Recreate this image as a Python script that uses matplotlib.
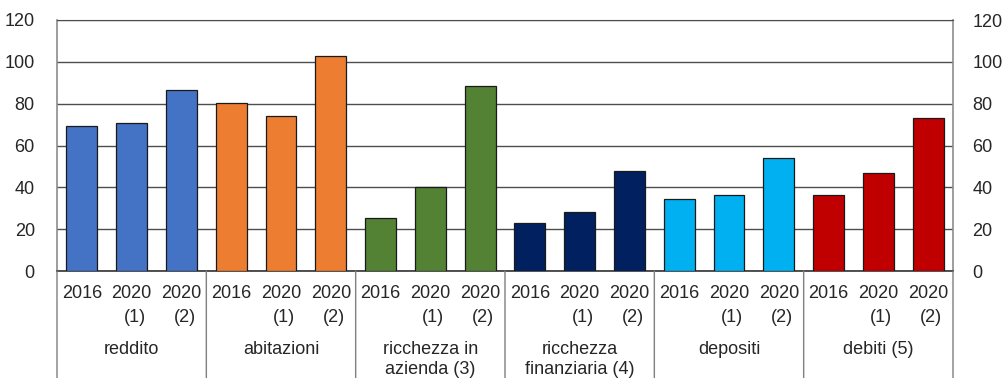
import matplotlib
matplotlib.use("Agg")
import matplotlib.pyplot as plt

plt.rcParams["font.family"] = ["Liberation Sans", "DejaVu Sans"]

groups = ["reddito", "abitazioni", "ricchezza in\nazienda (3)",
          "ricchezza\nfinanziaria (4)", "depositi", "debiti (5)"]
periods = [("2016", ""), ("2020", "(1)"), ("2020", "(2)")]
values = [
    [69.2, 70.9, 86.4],
    [80.3, 74.3, 103.0],
    [25.2, 40.3, 88.6],
    [23.1, 28.0, 48.0],
    [34.3, 36.5, 54.2],
    [36.5, 46.9, 73.3],
]
colors = ["#4472C4", "#ED7D31", "#548235", "#002060", "#00B0F0", "#C00000"]
yticks = [0, 20, 40, 60, 80, 100, 120]

fig = plt.figure(figsize=(10.02, 3.78), dpi=100)
ax = fig.add_axes([57 / 1002, 1 - 271 / 378, (953 - 57) / 1002, 251 / 378])

n_per = len(periods)
text_col = "#262626"
for g, (vals, col) in enumerate(zip(values, colors)):
    xs = [g * n_per + k + 0.5 for k in range(n_per)]
    ax.bar(xs, vals, width=0.62, color=col, edgecolor="#1a1a1a",
           linewidth=0.9, zorder=3)
    for x, (yr, note) in zip(xs, periods):
        ax.annotate(yr, xy=(x, 0), xycoords=("data", "axes fraction"),
                    xytext=(0, -22), textcoords="offset pixels",
                    ha="center", va="center", fontsize=13, color=text_col)
        if note:
            ax.annotate(note, xy=(x, 0), xycoords=("data", "axes fraction"),
                        xytext=(3, -47), textcoords="offset pixels",
                        ha="center", va="center", fontsize=13, color=text_col)
    cx = g * n_per + n_per / 2
    for i, line in enumerate(groups[g].split("\n")):
        ax.annotate(line, xy=(cx, 0), xycoords=("data", "axes fraction"),
                    xytext=(0, -79 - 20 * i), textcoords="offset pixels",
                    ha="center", va="center", fontsize=13, color=text_col)

# group separators running down through the label area
for b in range(len(groups) + 1):
    ax.annotate("", xy=(b * n_per, 0), xycoords=("data", "axes fraction"),
                xytext=(b * n_per, -0.45), textcoords=("data", "axes fraction"),
                arrowprops=dict(arrowstyle="-", color="#7f7f7f", lw=1.0,
                                shrinkA=0, shrinkB=0))

ax.set_xlim(0, len(groups) * n_per)
ax.set_ylim(0, 120)
ax.set_yticks(yticks)
ax.set_xticks([])
ax.yaxis.grid(True, color="#4d4d4d", linewidth=1.0, zorder=0)
ax.set_axisbelow(True)
ax.tick_params(axis="y", length=0, pad=16, labelsize=13, labelcolor=text_col)
for side in ["left", "right"]:
    ax.spines[side].set_color("#8c8c8c")
    ax.spines[side].set_linewidth(1.2)
ax.spines["top"].set_color("#4d4d4d")
ax.spines["bottom"].set_color("#333333")
ax.spines["bottom"].set_linewidth(1.2)

ax2 = ax.twinx()
ax2.set_ylim(0, 120)
ax2.set_yticks(yticks)
ax2.tick_params(axis="y", length=0, pad=14, labelsize=13, labelcolor=text_col)
for s in ax2.spines.values():
    s.set_visible(False)

fig.savefig("out.png", dpi=100)
